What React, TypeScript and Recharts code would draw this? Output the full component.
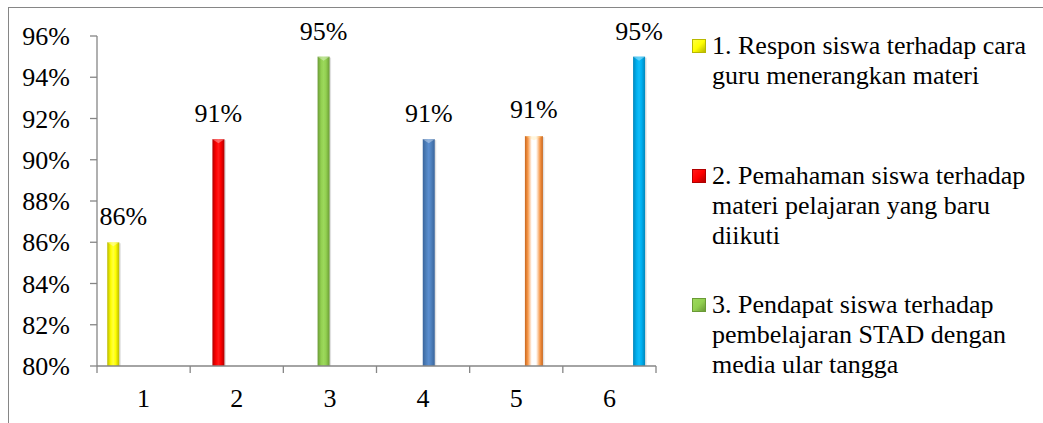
import React from "react";
import { BarChart, Bar, XAxis, YAxis, LabelList } from "recharts";

const categories = ["1", "2", "3", "4", "5", "6"];
const seriesNames = [
  "1. Respon siswa terhadap cara guru menerangkan materi",
  "2. Pemahaman siswa terhadap materi pelajaran yang baru diikuti",
  "3. Pendapat siswa terhadap pembelajaran STAD dengan media ular tangga",
  "4.",
  "5.",
  "6.",
];
const seriesValues = [86, 91, 95, 91, 91, 95];
const yTicks = [80, 82, 84, 86, 88, 90, 92, 94, 96];
const legendShown = 3;

const mainColors = ["#FFFF00", "#FF0000", "#92D050", "#4F81BD", "#F79646", "#00B0F0"];
const edgeColors = ["#B8B800", "#B00000", "#6A9A36", "#3A659C", "#C8661E", "#0087BC"];
const midColors = ["#FFFF40", "#FF1A1A", "#9CD85C", "#5B8ED0", "#FFFFFF", "#10BCF8"];

const data = categories.map((c, i) => {
  const row: Record<string, any> = { cat: c };
  seriesValues.forEach((v, j) => {
    row["s" + j] = i === j ? v : null;
  });
  return row;
});

const FONT = "'Liberation Serif', 'Times New Roman', serif";
const AXIS = "#868686";
const FS = 26;

function makeShape(j: number) {
  return (props: any) => {
    const { x, y, width, height } = props;
    if (height == null || height <= 0 || width == null) return <g />;
    const e = j === 4 ? 3 : 0;
    const bx = x - e;
    const by = y - e;
    const bw = width + 2 * e;
    const bh = height + e + 1;
    const tri = Math.min(4, bw / 3);
    return (
      <g>
        <rect x={bx + 1.5} y={by + 1} width={bw} height={bh} fill="#000" opacity={0.12} />
        <rect x={bx} y={by} width={bw} height={bh} fill={`url(#grad${j})`} />
        <polygon
          points={`${bx},${by} ${bx + bw},${by} ${bx + bw / 2},${by + tri}`}
          fill={j === 4 ? "#FFE6A0" : "#FFFFFF"}
          opacity={0.35}
        />
      </g>
    );
  };
}

const XTick = (props: any) => {
  const { x, y, payload, index, visibleTicksCount } = props;
  const half = payload && payload.offset ? payload.offset : 0;
  const axisY = y - 8;
  return (
    <g>
      <line x1={x - half} y1={axisY} x2={x - half} y2={axisY + 7} stroke={AXIS} strokeWidth={1.3} />
      {index === visibleTicksCount - 1 ? (
        <line x1={x + half} y1={axisY} x2={x + half} y2={axisY + 7} stroke={AXIS} strokeWidth={1.3} />
      ) : null}
      <text x={x} y={y + 33} textAnchor="middle" style={{ fontFamily: FONT, fontSize: FS }} fill="#000">
        {payload.value}
      </text>
    </g>
  );
};

const YTick = (props: any) => {
  const { x, y, payload } = props;
  return (
    <text x={x - 18} y={y + 9} textAnchor="end" style={{ fontFamily: FONT, fontSize: FS }} fill="#000">
      {`${payload.value}%`}
    </text>
  );
};

function makeLabel(j: number) {
  return (props: any) => {
    const { x, y, width, value } = props;
    if (value == null) return null;
    const lift = j === 4 ? 21 : 17;
    const dx = j === 0 ? 10 : 0;
    return (
      <text x={x + width / 2 + dx} y={y - lift} textAnchor="middle" style={{ fontFamily: FONT, fontSize: FS }} fill="#000">
        {`${value}%`}
      </text>
    );
  };
}

const LegendBlock = () => (
  <div
    style={{
      position: "absolute",
      left: 692,
      top: 31,
      width: 350,
      fontFamily: FONT,
      fontSize: FS,
      lineHeight: "30px",
      color: "#000",
    }}
  >
    {seriesNames.slice(0, legendShown).map((name, j) => (
      <div key={j} style={{ position: "relative", height: 129.5, paddingLeft: 20, width: 330 }}>
        <div
          style={{
            position: "absolute",
            left: 0,
            top: 8,
            width: 12,
            height: 12,
            background: `linear-gradient(135deg, ${midColors[j]} 0%, ${mainColors[j]} 50%, ${edgeColors[j]} 100%)`,
            border: `1px solid ${edgeColors[j]}`,
          }}
        />
        <div>{name}</div>
      </div>
    ))}
  </div>
);

export default function App() {
  return (
    <div style={{ position: "absolute", left: 0, top: 0, width: 1043, height: 423, background: "#fff", overflow: "hidden", fontFamily: FONT }}>
      <div
        style={{
          position: "absolute",
          left: 8,
          top: 7,
          width: 1100,
          height: 500,
          borderLeft: `1.5px solid ${AXIS}`,
          borderTop: `1.5px solid ${AXIS}`,
        }}
      />
      <div style={{ position: "absolute", left: 0, top: 0 }}>
        <BarChart
          width={1043}
          height={423}
          data={data}
          margin={{ top: 36, right: 387, bottom: 0, left: 0 }}
          barCategoryGap="11%"
          barGap={0}
        >
          <defs>
            {mainColors.map((c, j) => (
              <linearGradient key={j} id={`grad${j}`} x1="0" y1="0" x2="1" y2="0">
                <stop offset="0%" stopColor={edgeColors[j]} />
                <stop offset={j === 4 ? "16%" : "30%"} stopColor={c} />
                <stop offset={j === 4 ? "38%" : "50%"} stopColor={midColors[j]} />
                <stop offset={j === 4 ? "62%" : "50%"} stopColor={midColors[j]} />
                <stop offset={j === 4 ? "84%" : "70%"} stopColor={c} />
                <stop offset="100%" stopColor={edgeColors[j]} />
              </linearGradient>
            ))}
          </defs>
          <XAxis
            dataKey="cat"
            height={57}
            stroke={AXIS}
            strokeWidth={1.3}
            tickLine={false}
            tick={<XTick />}
            interval={0}
          />
          <YAxis
            width={97}
            domain={[80, 96]}
            ticks={yTicks}
            interval={0}
            stroke={AXIS}
            strokeWidth={1.3}
            tickSize={7}
            tickLine={{ stroke: AXIS, strokeWidth: 1.3 }}
            tick={<YTick />}
            allowDataOverflow
          />
          {seriesValues.map((_, j) => (
            <Bar
              key={j}
              dataKey={"s" + j}
              name={seriesNames[j]}
              fill={mainColors[j]}
              isAnimationActive={false}
              shape={makeShape(j)}
            >
              <LabelList dataKey={"s" + j} content={makeLabel(j)} />
            </Bar>
          ))}
        </BarChart>
      </div>
      <LegendBlock />
    </div>
  );
}
